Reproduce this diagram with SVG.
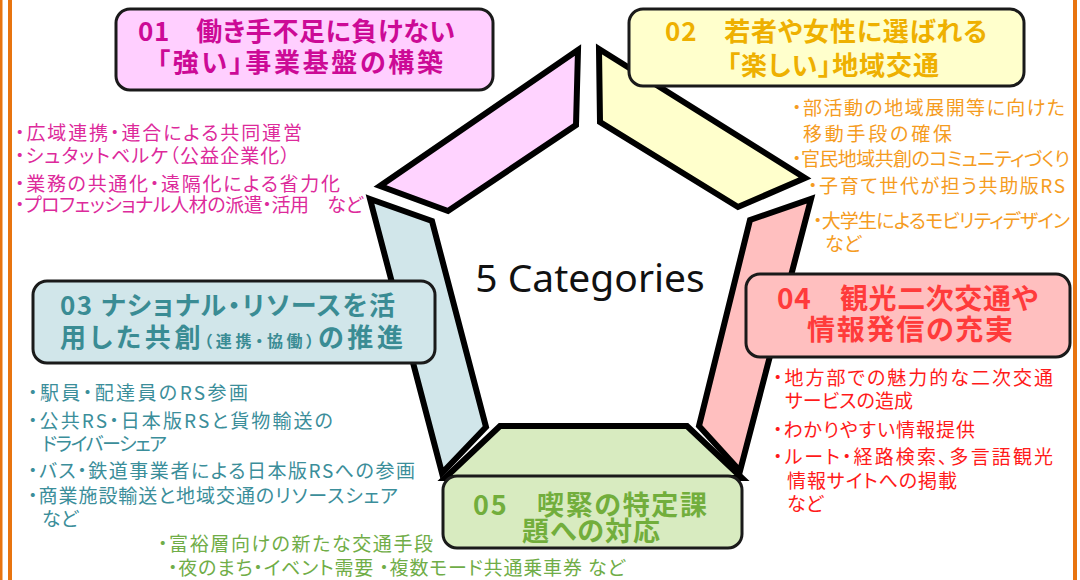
<svg xmlns="http://www.w3.org/2000/svg" width="1080" height="580" viewBox="0 0 1080 580">
<style>
.seg{stroke:#000;stroke-width:6;stroke-linejoin:miter}
.box{stroke:#1a1a1a;stroke-width:3}
.ttl{font-family:"Noto Sans CJK JP","Noto Sans",sans-serif;font-weight:bold;font-feature-settings:"palt"}
.lst{font-family:"Noto Sans CJK JP","Noto Sans",sans-serif;font-size:19px;font-feature-settings:"palt"}
.frame{fill:#E8740F}
</style>
<rect width="1080" height="580" fill="#fff"/>
<g id="frame">
<rect class="frame" x="0" y="0" width="2.5" height="580"/>
<rect class="frame" x="8" y="0" width="4" height="580"/>
<rect class="frame" x="1073" y="0" width="4" height="580"/>
</g>
<g id="connectors"></g>
<g id="node-01">
<polygon class="seg" fill="#FFD3FF" points="578,50 380,186 448,211 576,125"/>
<rect class="box" x="116" y="9" width="377" height="81" rx="14" fill="#FFCFFF"/>
<g class="ttl" fill="#CC0A96" font-size="26">
<text x="138" y="41" textLength="317" lengthAdjust="spacing">01　働き手不足に負けない</text>
<text x="157" y="72" textLength="286" lengthAdjust="spacing">「強い」事業基盤の構築</text>
</g>
<g class="lst" fill="#DD2A9B">
<text x="15" y="140" textLength="287" lengthAdjust="spacing">・広域連携・連合による共同運営</text>
<text x="15" y="163" textLength="275" lengthAdjust="spacing">・シュタットベルケ（公益企業化）</text>
<text x="15" y="191" textLength="325" lengthAdjust="spacing">・業務の共通化・遠隔化による省力化</text>
<text x="15" y="212" textLength="348" lengthAdjust="spacing">・プロフェッショナル人材の派遣・活用　など</text>
</g>
</g>
<g id="node-02">
<polygon class="seg" fill="#FFFFCC" points="599,49 805,178 738,207 600,122"/>
<rect class="box" x="629" y="9" width="395" height="77" rx="14" fill="#FFFFCC"/>
<g class="ttl" fill="#EEB000" font-size="26">
<text x="665" y="41" textLength="322" lengthAdjust="spacing">02　若者や女性に選ばれる</text>
<text x="727" y="75" textLength="212" lengthAdjust="spacing">「楽しい」地域交通</text>
</g>
<g class="lst" fill="#F59C1F" font-size="20">
<text x="792" y="115" textLength="273" lengthAdjust="spacing">・部活動の地域展開等に向けた</text>
<text x="803" y="141" textLength="149" lengthAdjust="spacing">移動手段の確保</text>
<text x="792" y="166" textLength="278" lengthAdjust="spacing">・官民地域共創のコミュニティづくり</text>
<text x="808" y="193" textLength="257" lengthAdjust="spacing">・子育て世代が担う共助版RS</text>
<text x="813" y="228" textLength="257" lengthAdjust="spacing">・大学生によるモビリティデザイン</text>
<text x="825" y="251">など</text>
</g>
</g>
<g id="node-03">
<polygon class="seg" fill="#D1E6EA" points="370,199 432,221 486,427 442,473"/>
<rect class="box" x="33" y="281" width="402" height="82" rx="14" fill="#D1E6EA"/>
<g class="ttl" fill="#3A8C94" font-size="26">
<text x="60" y="315" textLength="335" lengthAdjust="spacing">03 ナショナル・リソースを活</text>
<text x="60" y="347" textLength="343" lengthAdjust="spacing">用した共創<tspan font-size="16">（連携・協働）</tspan>の推進</text>
</g>
<g class="lst" fill="#3B8E9A">
<text x="28" y="400" textLength="220" lengthAdjust="spacing">・駅員・配達員のRS参画</text>
<text x="28" y="428" textLength="305" lengthAdjust="spacing">・公共RS・日本版RSと貨物輸送の</text>
<text x="42" y="451" textLength="125" lengthAdjust="spacing">ドライバーシェア</text>
<text x="28" y="478" textLength="387" lengthAdjust="spacing">・バス・鉄道事業者による日本版RSへの参画</text>
<text x="28" y="503" textLength="370" lengthAdjust="spacing">・商業施設輸送と地域交通のリソースシェア</text>
<text x="42" y="526">など</text>
</g>
</g>
<g id="node-04">
<polygon class="seg" fill="#FFBFBF" points="811,199 740,471 699,426 750,220"/>
<rect class="box" x="746" y="274" width="324" height="83" rx="14" fill="#FFBFBF"/>
<g class="ttl" fill="#FF3B3B" font-size="28">
<text x="777" y="309" textLength="261" lengthAdjust="spacing">04　観光二次交通や</text>
<text x="807" y="340" textLength="206" lengthAdjust="spacing">情報発信の充実</text>
</g>
<g class="lst" fill="#FF1A1A" font-size="20">
<text x="773" y="385" textLength="280" lengthAdjust="spacing">・地方部での魅力的な二次交通</text>
<text x="785" y="408" textLength="128" lengthAdjust="spacing">サービスの造成</text>
<text x="773" y="437" textLength="202" lengthAdjust="spacing">・わかりやすい情報提供</text>
<text x="773" y="464" textLength="280" lengthAdjust="spacing">・ルート・経路検索、多言語観光</text>
<text x="787" y="488" textLength="170" lengthAdjust="spacing">情報サイトへの掲載</text>
<text x="787" y="511">など</text>
</g>
</g>
<g id="node-05">
<polygon class="seg" fill="#D8EBC0" points="500,426 687,426 742,478 445,478"/>
<rect class="box" x="443" y="476" width="299" height="72" rx="14" fill="#D8EBC0"/>
<g class="ttl" fill="#72AE3C" font-size="27">
<text x="473" y="515" textLength="234" lengthAdjust="spacing">05　喫緊の特定課</text>
<text x="522" y="541" textLength="138" lengthAdjust="spacing">題への対応</text>
</g>
<g class="lst" fill="#70AD47">
<text x="158" y="551" textLength="275" lengthAdjust="spacing">・富裕層向けの新たな交通手段</text>
<text x="168" y="575" textLength="457" lengthAdjust="spacing">・夜のまち・イベント需要 ・複数モード共通乗車券 など</text>
</g>
</g>
<g id="center">
<text x="590" y="292" text-anchor="middle" font-family="'Noto Sans','DejaVu Sans',sans-serif" font-size="39" fill="#111">5 Categories</text>
</g>
</svg>
